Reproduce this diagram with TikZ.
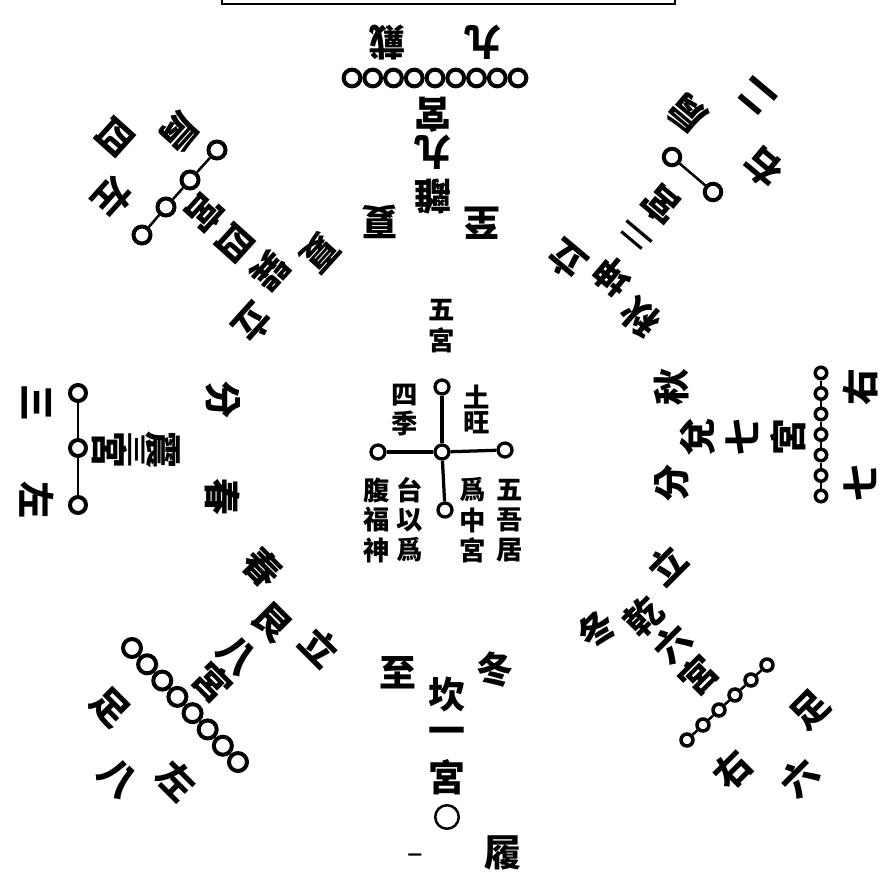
\documentclass[tikz,border=0pt]{standalone}
\usepackage{fontspec}
\newfontfamily\zh{Noto Sans CJK TC}
\newcommand{\bian}[1]{\scalebox{1}[0.55]{#1}}

\begin{document}
\begin{tikzpicture}[x=0.2mm,y=-0.2mm,
  zi/.style={font=\zh\bfseries\fontsize{21}{21}\selectfont,inner sep=0pt},
  xiao/.style={font=\zh\bfseries\fontsize{15}{15}\selectfont,inner sep=0pt},
  dian/.style={circle,draw,inner sep=0pt,line width=0.8mm,minimum size=3.3mm},
  xian/.style={line width=0.5mm}]
\useasboundingbox (0,0) rectangle (883,880);
\draw[line width=0.45mm] (222,-5) -- (222,4) -- (675,4) -- (675,-5);
% li: nine
\foreach \z/\x/\y [count=\i] in {戴/387/42,九/483/42,宮/433/115,九/433/152,離/433/197,夏/380/222,至/482/223}
  \node[zi,rotate=180] (li\i) at (\x,\y) {\z};
\foreach \i in {1,...,9}
  \node[dian,minimum size=3.35mm] (lid\i) at ({352+(\i-1)*20.75},78) {};
\foreach \i [count=\j from 2] in {1,...,8}
  \draw[xian] (lid\i) -- (lid\j);
% kan: one
\foreach \z/\x/\y [count=\i] in {冬/495/670,至/398/673,坎/447/695,一/447/736,宮/447/777,履/503/853}
  \node[zi] (kan\i) at (\x,\y) {\z};
\node[zi,font=\zh\bfseries\fontsize{8}{8}\selectfont] (kan7) at (415,857) {一};
\node[dian,line width=0.5mm,minimum size=4.7mm] (kand1) at (447,817) {};
% zhen: three
\foreach \z/\x/\y [count=\i] in {分/223/400,春/223/497,震/163/450,\bian{三}/137/450,宮/110/450,三/37/403,左/37/500}
  \node[zi,rotate=-90] (zhen\i) at (\x,\y) {\z};
\foreach \y [count=\i] in {393,448,505}
  \node[dian,minimum size=3.2mm] (zhend\i) at (78,\y) {};
\draw[xian] (zhend1) -- (zhend2) -- (zhend3);
% dui: seven
\foreach \z/\x/\y [count=\i] in {秋/672/387,分/672/483,兌/698/437,七/742/437,宮/788/437,右/860/387,七/860/483}
  \node[zi,rotate=90] (dui\i) at (\x,\y) {\z};
\foreach \i in {1,...,7}
  \node[dian,minimum size=2.3mm,line width=0.7mm] (duid\i) at (821,{373+(\i-1)*20.5}) {};
\foreach \i [count=\j from 2] in {1,...,6}
  \draw[xian] (duid\i) -- (duid\j);
% xun: four
\foreach \z/\x/\y [count=\i] in {四/115/137,肩/180/133,左/113/198,宮/205/213,四/235/243,巽/270/271,立/253/323,夏/320/253}
  \node[zi,rotate=-132] (xun\i) at (\x,\y) {\z};
\foreach \x/\y [count=\i] in {217/150,190/180,166/207,142/235}
  \node[dian,minimum size=3.4mm] (xund\i) at (\x,\y) {};
\draw[xian] (xund1) -- (xund2) -- (xund3) -- (xund4);
% kun: two
\foreach \z/\x/\y [count=\i] in {二/757/97,肩/687/113,右/763/167,宮/661/205,\bian{二}/636/236,坤/612/276,立/567/260,秋/640/317}
  \node[zi,rotate=140] (kun\i) at (\x,\y) {\z};
\foreach \x/\y [count=\i] in {672/157,713/192}
  \node[dian,minimum size=3.3mm] (kund\i) at (\x,\y) {};
\draw[xian] (kund1) -- (kund2);
% gen: eight
\foreach \z/\x/\y [count=\i] in {春/262/568,立/320/647,艮/272/622,八/237/655,宮/213/682,足/110/707,八/118/778,左/177/780}
  \node[zi,rotate=-45] (gen\i) at (\x,\y) {\z};
\foreach \i in {1,...,8}
  \node[dian,minimum size=3.6mm] (gend\i) at ({132+(\i-1)*15.14},{648+(\i-1)*16.29}) {};
\foreach \i [count=\j from 2] in {1,...,7}
  \draw[xian] (gend\i) -- (gend\j);
% qian: six
\foreach \z/\x/\y [count=\i] in {立/667/565,冬/597/630,乾/644/617,六/673/643,宮/698/675,足/810/710,六/800/777,右/733/770}
  \node[zi,rotate=45] (qian\i) at (\x,\y) {\z};
\foreach \i in {1,...,6}
  \node[dian,minimum size=2.4mm,line width=0.7mm] (qiand\i) at ({767-(\i-1)*16},{665+(\i-1)*15}) {};
\foreach \i [count=\j from 2] in {1,...,5}
  \draw[xian] (qiand\i) -- (qiand\j);
% zhong: five
\foreach \z/\x/\y [count=\i] in {五/442/310,宮/442/340,四/405/395,季/405/423,土/477/397,旺/477/423,腹/377/490,福/377/520,神/377/550,台/410/490,以/410/520,爲/410/550,爲/473/490,中/473/520,宮/473/550,五/510/490,吾/510/520,居/510/550}
  \node[xiao] (zhong\i) at (\x,\y) {\z};
\foreach \x/\y [count=\i] in {442/452,442/387,378/452,505/450,445/510}
  \node[dian,minimum size=2.8mm,line width=0.65mm] (zhongd\i) at (\x,\y) {};
\foreach \j in {2,...,5}
  \draw[line width=0.65mm] (zhongd1) -- (zhongd\j);
\end{tikzpicture}
\end{document}
